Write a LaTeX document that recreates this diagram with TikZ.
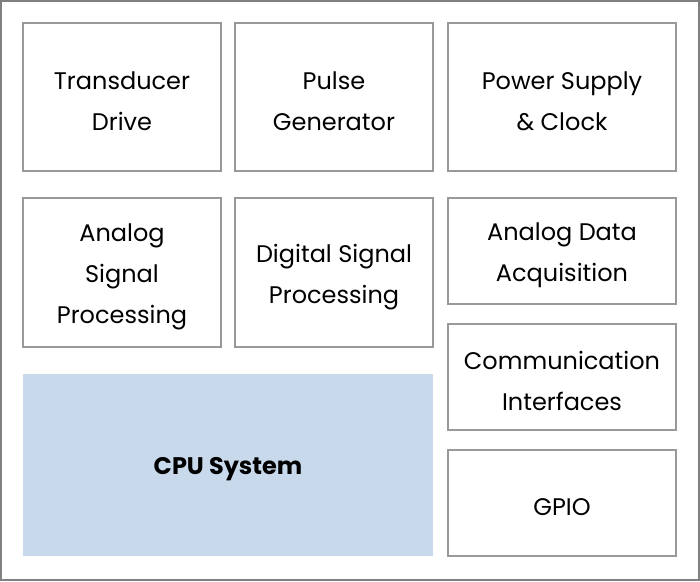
\documentclass[tikz,border=0pt]{standalone}
\usepackage{fontspec}
\setmainfont{Poppins}
\usetikzlibrary{positioning}

\begin{document}
\begin{tikzpicture}[
    x=1pt, y=-1pt,
    block/.style={
        draw=black!40, line width=2pt, rectangle, inner sep=0,
        align=center, font=\fontsize{24}{41}\selectfont, text=black},
    one/.style={text height=26pt},
    two/.style={text height=68pt},
    three/.style={text height=108pt},
    narrow/.style={block, minimum width=198pt},
    wide/.style={block, minimum width=228pt},
    tall/.style={minimum height=148pt},
    short/.style={minimum height=106pt},
    cpu/.style={rectangle, fill=cpublue, inner sep=0, one,
        minimum width=410pt, minimum height=182pt,
        font=\fontsize{24}{41}\selectfont\bfseries}]
\definecolor{cpublue}{HTML}{C8D9EC}
\useasboundingbox (0,0) rectangle (700,581);
\draw[black!50, line width=2pt] (1,1) rectangle (699,580);

% top row
\node[narrow, tall, two] (drive) at (122,97) {Transducer\\Drive};
\node[narrow, tall, two] (pulse) at (334,97) {Pulse\\Generator};
\node[wide, tall, two] (power) at (562,97) {Power Supply\\\& Clock};

% middle row
\node[narrow, minimum height=149pt, three] (asp) at (122,272.5) {Analog\\Signal\\Processing};
\node[narrow, minimum height=149pt, two] (dsp) at (334,272.5) {Digital Signal\\Processing};

% right column
\node[wide, short, two] (adc) at (562,251) {Analog Data\\Acquisition};
\node[wide, short, two] (comm) at (562,377) {Communication\\Interfaces};
\node[wide, short, one] (gpio) at (562,503) {GPIO};

% cpu
\node[cpu] (cpusys) at (228,465) {CPU System};

\end{tikzpicture}
\end{document}
